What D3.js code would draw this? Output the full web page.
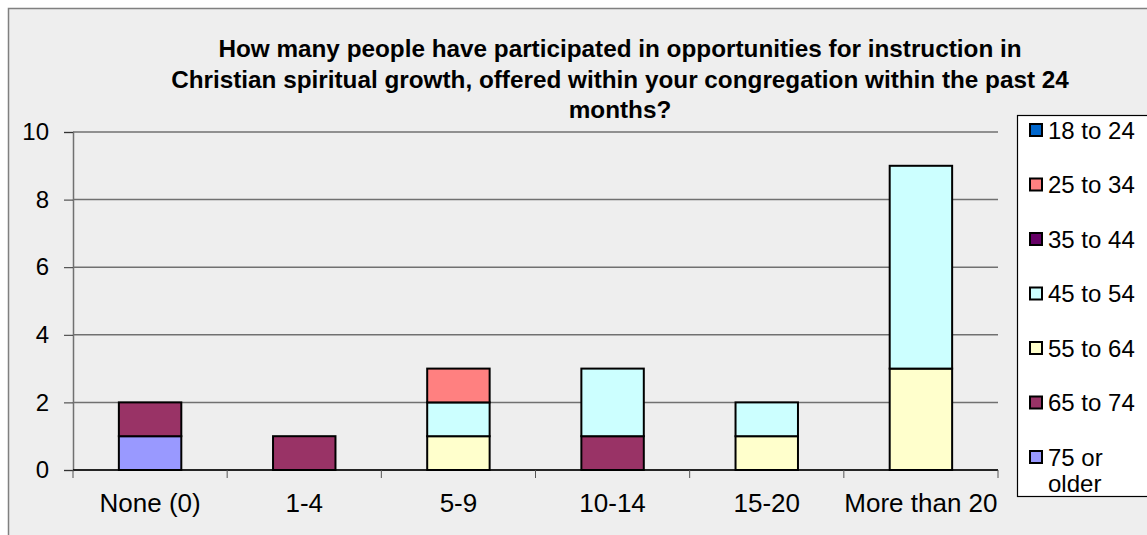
<!DOCTYPE html>
<html>
<head>
<meta charset="utf-8">
<script src="https://cdn.jsdelivr.net/npm/d3@7"></script>
<style>
  html, body { margin: 0; padding: 0; background: #ffffff; }
  svg { display: block; font-family: "Liberation Sans", Arial, sans-serif; }
</style>
</head>
<body>
<svg id="chart" width="1147" height="535"></svg>
<script>
// Participation counts by age group for each attendance bracket
const categories = ["None (0)", "1-4", "5-9", "10-14", "15-20", "More than 20"];
const ageGroups = ["18 to 24", "25 to 34", "35 to 44", "45 to 54", "55 to 64", "65 to 74", "75 or older"];
const colors = ["#0066cc", "#ff8080", "#660066", "#ccffff", "#ffffcc", "#993366", "#9999ff"];

const age18to24 = [0, 0, 0, 0, 0, 0];
const age25to34 = [0, 0, 1, 0, 0, 0];
const age35to44 = [0, 0, 0, 0, 0, 0];
const age45to54 = [0, 0, 1, 2, 1, 6];
const age55to64 = [0, 0, 1, 0, 1, 3];
const age65to74 = [1, 1, 0, 1, 0, 0];
const age75plus = [1, 0, 0, 0, 0, 0];
const seriesValues = [age18to24, age25to34, age35to44, age45to54, age55to64, age65to74, age75plus];

const yTicks = [0, 2, 4, 6, 8, 10];
const titleLines = [
  "How many people have participated in opportunities for instruction in",
  "Christian spiritual growth, offered within your congregation within the past 24",
  "months?"
];

const FONT = 24;
const svg = d3.select("#chart");

// chart area frame
svg.append("rect")
  .attr("x", 8.5).attr("y", 8.5)
  .attr("width", 1160).attr("height", 540)
  .attr("fill", "#eeeeee")
  .attr("stroke", "#808080").attr("stroke-width", 1.5);

const plot = { left: 73, right: 998, top: 132, bottom: 470 };

const x = d3.scaleBand().domain(categories).range([plot.left, plot.right]).paddingInner(0).paddingOuter(0);
const y = d3.scaleLinear().domain([0, 10]).range([plot.bottom, plot.top]);

// title
svg.append("g").selectAll("text").data(titleLines).join("text")
  .attr("x", 620)
  .attr("y", (d, i) => 57 + i * 30.5)
  .attr("text-anchor", "middle")
  .attr("font-size", 24.3)
  .attr("font-weight", "bold")
  .attr("fill", "#000")
  .text(d => d);

// gridlines
svg.append("g").selectAll("line").data(yTicks).join("line")
  .attr("x1", plot.left).attr("x2", plot.right)
  .attr("y1", d => y(d)).attr("y2", d => y(d))
  .attr("stroke", "#707070").attr("stroke-width", 1.5);

// stacked bars
const rows = categories.map((c, i) => {
  const r = { category: c };
  ageGroups.forEach((g, k) => { r[g] = seriesValues[k][i]; });
  return r;
});
const stackOrder = ageGroups.slice().reverse(); // oldest group at the bottom
const stacked = d3.stack().keys(stackOrder)(rows);
const colorOf = d3.scaleOrdinal().domain(ageGroups).range(colors);
const barW = x.bandwidth() * 0.405;

const layers = svg.append("g").selectAll("g").data(stacked).join("g")
  .attr("fill", d => colorOf(d.key));
layers.selectAll("rect")
  .data(d => d.filter(s => s[1] - s[0] > 0))
  .join("rect")
  .attr("x", d => x(d.data.category) + (x.bandwidth() - barW) / 2)
  .attr("y", d => y(d[1]))
  .attr("width", barW)
  .attr("height", d => y(d[0]) - y(d[1]))
  .attr("stroke", "#000")
  .attr("stroke-width", 2);

// y axis
const yAxis = svg.append("g")
  .attr("transform", `translate(${plot.left},0)`)
  .call(d3.axisLeft(y).tickValues(yTicks).tickSize(9).tickPadding(15));
yAxis.select(".domain").attr("stroke", "#707070").attr("stroke-width", 1.5);
yAxis.selectAll(".tick line").attr("stroke", "#333").attr("stroke-width", 1);
yAxis.selectAll("text").attr("font-size", FONT).attr("fill", "#000")
  .attr("font-family", "Liberation Sans, Arial, sans-serif");

// x axis line, boundary ticks and labels
const xAxisG = svg.append("g");
xAxisG.append("line")
  .attr("x1", plot.left).attr("x2", plot.right)
  .attr("y1", plot.bottom).attr("y2", plot.bottom)
  .attr("stroke", "#000").attr("stroke-width", 1.5);
const boundaries = categories.map(c => x(c)).concat([x(categories[categories.length - 1]) + x.bandwidth()]);
xAxisG.selectAll("line.tk").data(boundaries).join("line")
  .attr("class", "tk")
  .attr("x1", d => d).attr("x2", d => d)
  .attr("y1", plot.bottom).attr("y2", plot.bottom + 8)
  .attr("stroke", "#555").attr("stroke-width", 1);
xAxisG.selectAll("text").data(categories).join("text")
  .attr("x", d => x(d) + x.bandwidth() / 2)
  .attr("y", 512)
  .attr("text-anchor", "middle")
  .attr("font-size", 26)
  .attr("fill", "#000")
  .text(d => d);

// legend
const legend = svg.append("g");
legend.append("rect")
  .attr("x", 1017.5).attr("y", 115.5)
  .attr("width", 140).attr("height", 381)
  .attr("fill", "#ffffff")
  .attr("stroke", "#000").attr("stroke-width", 1.2);
const item = legend.selectAll("g.item").data(ageGroups).join("g")
  .attr("class", "item")
  .attr("transform", (d, i) => `translate(0, ${130 + i * 54.5})`);
item.append("rect")
  .attr("x", 1030).attr("y", -6)
  .attr("width", 12).attr("height", 12)
  .attr("fill", (d, i) => colors[i])
  .attr("stroke", "#000").attr("stroke-width", 2);
item.append("text")
  .attr("x", 1048).attr("y", 8.5)
  .attr("font-size", FONT)
  .attr("fill", "#000")
  .each(function(d) {
    const t = d3.select(this);
    if (d === "75 or older") {
      t.append("tspan").attr("x", 1048).text("75 or");
      t.append("tspan").attr("x", 1048).attr("dy", 26).text("older");
    } else {
      t.text(d);
    }
  });
</script>
</body>
</html>
